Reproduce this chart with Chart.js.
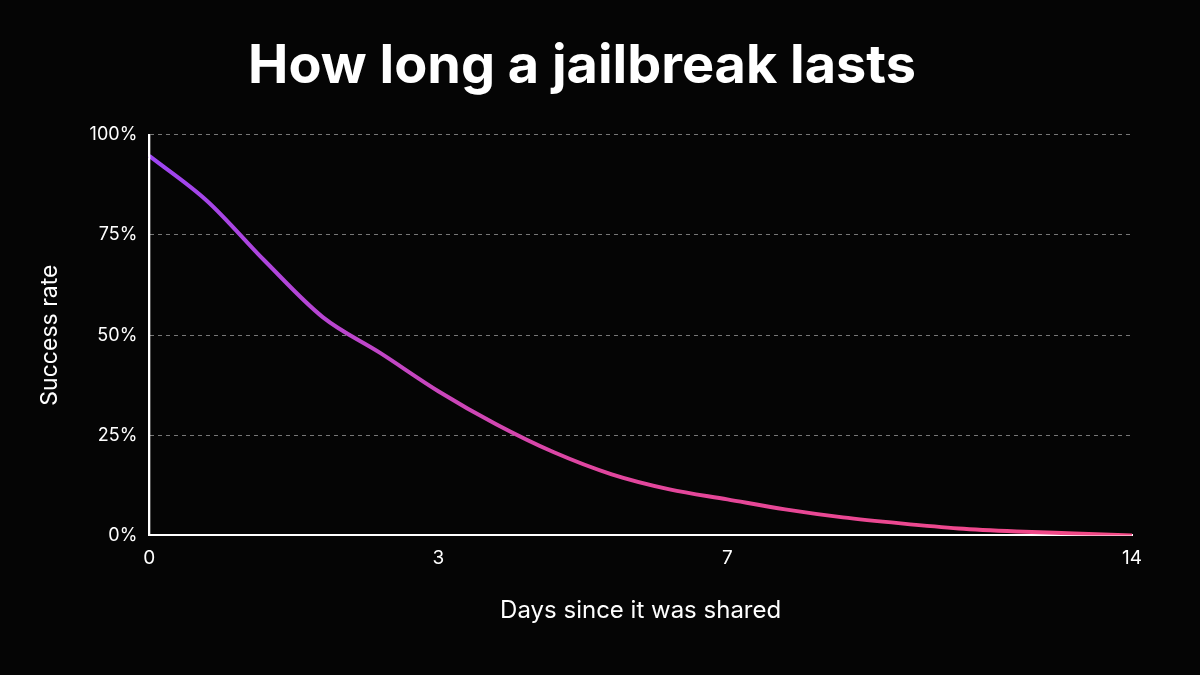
<!DOCTYPE html>
<html><head><meta charset="utf-8">
<script src="https://cdn.jsdelivr.net/npm/chart.js@4"></script>
<style>html,body{margin:0;background:#050505;}#w{width:1200px;height:675px;position:relative}</style>
</head><body><div id="w"><canvas id="c"></canvas></div>
<script>
const dayLabels = ["0","","","","","3","","","","","7","","","","","","","14"];
const successRate = [94.75,83.5,68.5,54.5,45.5,36,27.75,20.75,15.25,11.5,9,6.5,4.5,3,1.75,1,0.5,0];
const yTicks = [0,25,50,75,100];

const ctx = document.getElementById('c');
new Chart(ctx, {
  type: 'line',
  data: { labels: dayLabels, datasets: [{
    data: successRate, tension: 0.4, cubicInterpolationMode: 'monotone', pointRadius: 0, borderWidth: 4,
    borderColor: (c) => {
      const a = c.chart.chartArea; if (!a) return '#a040f0';
      const g = c.chart.ctx.createLinearGradient(a.left, 0, a.right, 0);
      g.addColorStop(0, '#9d45f2'); g.addColorStop(0.45, '#e0469f'); g.addColorStop(1, '#f54a86');
      return g;
    }
  }]},
  options: {
    responsive: true, maintainAspectRatio: false, animation: false,
    layout: { padding: { left: 32, right: 68, top: 0, bottom: 46 } },
    plugins: { legend: { display: false }, tooltip: { enabled: false },
      title: { display: true, text: 'How long a jailbreak lasts', color: '#ffffff',
        font: { family: 'Inter', size: 54, weight: 'bold' }, padding: { top: 34, bottom: 36 } } },
    scales: {
      x: { offset: false,
        grid: { display: false, drawTicks: true, tickLength: 8, color: '#ffffff' },
        border: { color: '#ffffff', width: 2 },
        ticks: { color: '#ffffff', autoSkip: false, maxRotation: 0, font: { family: 'Inter', size: 19 },
          callback: (v, i) => dayLabels[i] },
        title: { display: true, text: 'Days since it was shared', color: '#ffffff', font: { family: 'Inter', size: 24 }, padding: { top: 24 } } },
      y: { min: 0, max: 100,
        afterBuildTicks: (s) => { s.ticks = yTicks.map(v => ({ value: v })); },
        grid: { color: '#777777', drawTicks: false, lineWidth: 1 },
        border: { color: '#ffffff', width: 2, dash: [4,4] },
        ticks: { color: '#ffffff', padding: 12, font: { family: 'Inter', size: 18 }, callback: v => v + '%' },
        title: { display: true, text: 'Success rate', color: '#ffffff', font: { family: 'Inter', size: 23 }, padding: { bottom: 14 } } }
    }
  },
  plugins: [{ id: 'yline', afterDraw(ch) {
    const a = ch.chartArea, c = ch.ctx;
    c.save(); c.strokeStyle = '#ffffff'; c.lineWidth = 2; c.setLineDash([]);
    c.beginPath(); c.moveTo(a.left, a.top); c.lineTo(a.left, a.bottom); c.stroke(); c.restore();
  }}]
});
</script></body></html>
